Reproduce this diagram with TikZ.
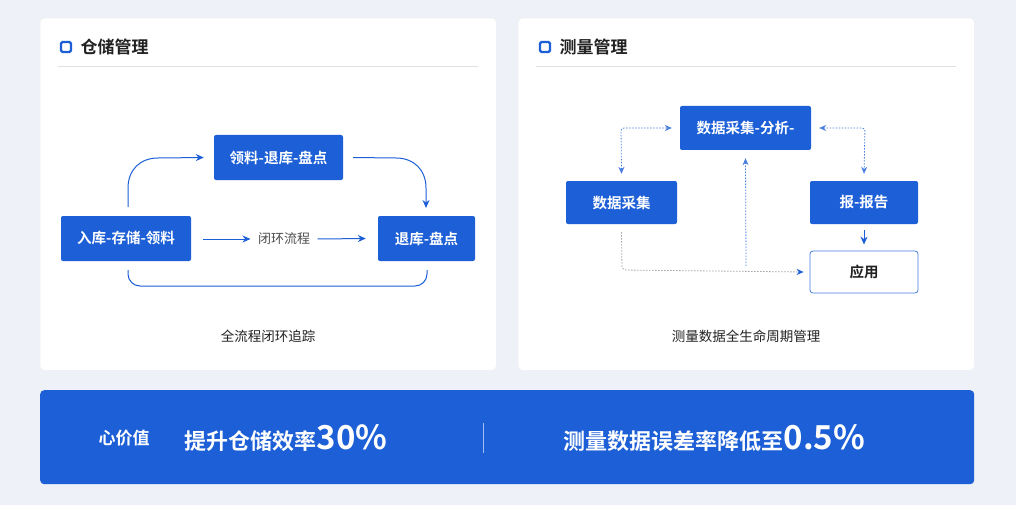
\documentclass[tikz,border=0pt]{standalone}
\usepackage{fontspec}
\setmainfont{Noto Sans CJK SC}
\newfontfamily\cjkb{Noto Sans CJK SC Bold}
\usetikzlibrary{arrows.meta}
\definecolor{bl}{HTML}{1C5FD6}
\definecolor{bg}{HTML}{EEF1F7}
\definecolor{tx}{HTML}{222222}
\tikzset{
 card/.style={fill=white,draw=black!6,rounded corners=4pt},
 bbox/.style={fill=bl,rounded corners=2pt,text=white,font=\cjkb\fontsize{14.5}{16}\selectfont,inner sep=0pt},
 arr/.style={draw=bl,line width=1pt,-{Stealth[length=8pt,width=7pt]}},
 dot/.style={draw=bl!80,line width=0.8pt,dash pattern=on 1.5pt off 1.5pt,>={Stealth[length=7pt,width=6pt]}},
 ttl/.style={font=\cjkb\fontsize{17}{19}\selectfont,text=tx,anchor=west},
 captext/.style={font=\fontsize{13.5}{15}\selectfont,text=tx},
}
\begin{document}
\begin{tikzpicture}[x=1pt,y=-1pt]
\useasboundingbox (0,0) rectangle (1016,505);
\fill[bg] (0,0) rectangle (1016,505);
\node[card,minimum width=456pt,minimum height=352pt,anchor=north west] (lc) at (40,18) {};
\node[card,minimum width=456pt,minimum height=352pt,anchor=north west] (rc) at (518,18) {};
% headers
\node[draw=bl,line width=2.2pt,rounded corners=1.5pt,minimum size=10pt,inner sep=0pt] (li) at (66,47) {};
\node[ttl] (lt) at (77,47) {仓储管理};
\draw[black!12] (58,66) -- (478,66);
\node[draw=bl,line width=2.2pt,rounded corners=1.5pt,minimum size=10pt,inner sep=0pt] (ri) at (545,47) {};
\node[ttl] (rt) at (556,47) {测量管理};
\draw[black!12] (536,66) -- (956,66);
% left nodes
\node[bbox,minimum width=130pt,minimum height=45pt] (a) at (126,238.5) {入库-存储-领料};
\node[bbox,minimum width=129pt,minimum height=45pt] (b) at (278.5,157.5) {领料-退库-盘点};
\node[bbox,minimum width=97pt,minimum height=45pt] (c) at (426.5,238.5) {退库-盘点};
\node[font=\fontsize{13}{15}\selectfont,text=black!70] (m) at (284,239) {闭环流程};
\draw[arr] (128,207) -- (128,188) .. controls (128,170) and (140,158) .. (158,158) -- ([xshift=-10pt]b.west);
\draw[arr] ([xshift=10pt]b.east) -- (396,158) .. controls (414,158) and (426,170) .. (426,188) -- (426,208);
\draw[arr] (203,239) -- ([xshift=-4pt]m.west);
\draw[arr] ([xshift=4pt]m.east) -- ([xshift=-12pt]c.west);
\draw[draw=bl,line width=1pt,rounded corners=12pt] (128,270) -- (128,286) -- (427,286) -- (427,270);
\node[captext] (lcap) at (268,336) {全流程闭环追踪};
% right nodes
\node[bbox,minimum width=131pt,minimum height=44pt] (d) at (745.5,128) {数据采集-分析-};
\node[bbox,minimum width=111pt,minimum height=43pt] (e) at (621.5,202.5) {数据采集};
\node[bbox,minimum width=108pt,minimum height=43pt] (f) at (864,202.5) {报-报告};
\node[draw=bl!80,fill=white,line width=0.8pt,rounded corners=3pt,minimum width=108pt,minimum height=42pt,font=\cjkb\fontsize{14.5}{16}\selectfont,text=tx] (g) at (864,272) {应用};
\draw[dot,<->,rounded corners=3pt] ([yshift=7pt]e.north) -- (621,128) -- ([xshift=-8pt]d.west);
\draw[dot,<->,rounded corners=3pt] ([xshift=8pt]d.east) -- (865,128) -- ([yshift=7pt]f.north);
\draw[dot,->] (746,266) -- ([yshift=-8pt]d.south);
\draw[dot,draw=black!35,-{Stealth[length=7pt,width=6pt,color=bl]},rounded corners=4pt] ([yshift=-8pt]e.south) -- (622,270) -- ([xshift=-6pt]g.west);
\draw[arr] ([yshift=-6pt]f.south) -- ([yshift=6pt]g.north);
\node[captext] (rcap) at (746,336) {测量数据全生命周期管理};
% bottom bar
\node[fill=bl,rounded corners=4pt,minimum width=934pt,minimum height=94pt,anchor=north west,inner sep=0pt] (bar) at (40,390) {};
\node[text=white,font=\cjkb\fontsize{17}{19}\selectfont] (k) at (124,438) {心价值};
\node[text=white,anchor=west,font=\cjkb\fontsize{22}{25}\selectfont] (v1) at (181,438) {提升仓储效率{\fontsize{33}{36}\selectfont 30\%}};
\draw[white!60!bl] (483,423) -- (483,453);
\node[text=white,anchor=west,font=\cjkb\fontsize{22}{25}\selectfont] (v2) at (560,438) {测量数据误差率降低至{\fontsize{33}{36}\selectfont 0.5\%}};
\end{tikzpicture}
\end{document}
